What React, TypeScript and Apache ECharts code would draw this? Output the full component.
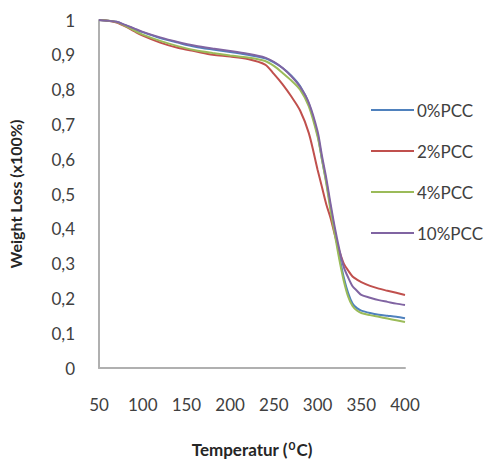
import React, { useEffect, useRef } from "react";
import * as echarts from "echarts";

const temperatures = [50, 60, 70, 80, 90, 100, 120, 140, 160, 180, 200, 220, 240, 250, 260, 270, 280, 290, 300, 305, 310, 315, 320, 325, 330, 335, 340, 345, 350, 360, 370, 380, 390, 400];

const pcc0 = [1.0, 0.998, 0.995, 0.985, 0.975, 0.965, 0.948, 0.935, 0.923, 0.915, 0.908, 0.9, 0.89, 0.878, 0.862, 0.84, 0.81, 0.76, 0.67, 0.6, 0.535, 0.46, 0.39, 0.32, 0.26, 0.215, 0.185, 0.172, 0.165, 0.158, 0.153, 0.15, 0.147, 0.143];
const pcc2 = [1.0, 0.998, 0.993, 0.982, 0.968, 0.955, 0.935, 0.92, 0.91, 0.9, 0.895, 0.888, 0.872, 0.845, 0.815, 0.78, 0.74, 0.675, 0.57, 0.52, 0.47, 0.43, 0.38, 0.335, 0.3, 0.28, 0.263, 0.254, 0.247, 0.236, 0.228, 0.222, 0.216, 0.21];
const pcc4 = [1.0, 0.998, 0.994, 0.983, 0.97, 0.958, 0.94, 0.925, 0.913, 0.905, 0.898, 0.892, 0.882, 0.868, 0.848, 0.826, 0.8, 0.752, 0.665, 0.6, 0.53, 0.45, 0.38, 0.31, 0.25, 0.205, 0.178, 0.165, 0.158, 0.152, 0.147, 0.142, 0.137, 0.132];
const pcc10 = [1.0, 0.998, 0.995, 0.986, 0.976, 0.966, 0.95, 0.937, 0.926, 0.918, 0.911, 0.903, 0.892, 0.88, 0.862, 0.838, 0.808, 0.762, 0.68, 0.61, 0.545, 0.47, 0.4, 0.34, 0.29, 0.26, 0.235, 0.222, 0.21, 0.202, 0.195, 0.19, 0.185, 0.181];

const seriesNames = ["0%PCC", "2%PCC", "4%PCC", "10%PCC"];
const seriesColors = ["#4f81bd", "#c0504d", "#9bbb59", "#8064a2"];
const seriesData = [pcc0, pcc2, pcc4, pcc10];

export default function App() {
  const ref = useRef<HTMLDivElement>(null);
  useEffect(() => {
    if (!ref.current) return;
    const chart = echarts.init(ref.current, null, { renderer: "svg" });
    const font = "Lato, 'Open Sans', sans-serif";
    chart.setOption({
      animation: false,
      backgroundColor: "#ffffff",
      grid: { left: 99, right: 90, top: 20, bottom: 92, containLabel: false, outerBoundsMode: "none" },
      legend: {
        orient: "vertical",
        left: 366,
        top: 95,
        icon: "rect",
        itemWidth: 43,
        itemHeight: 2,
        itemGap: 21,
        textStyle: { fontFamily: font, fontSize: 17, color: "#404040", lineHeight: 20, padding: [0, 0, 0, -2] },
        data: seriesNames,
      },
      xAxis: {
        type: "value",
        min: 50,
        max: 400,
        interval: 50,
        axisLine: { lineStyle: { color: "#b0b0b0", width: 2 } },
        axisTick: { show: false },
        splitLine: { show: false },
        axisLabel: { fontFamily: font, fontSize: 17, color: "#404040", margin: 28 },
        name: "{a|Temperatur (}{sup|0}{a|C)}",
        nameLocation: "middle",
        nameGap: 71,
        nameTextStyle: {
          rich: {
            a: { fontFamily: font, fontSize: 17, fontWeight: "bold", color: "#262626" },
            sup: { fontFamily: font, fontSize: 12, fontWeight: "bold", color: "#262626", padding: [0, 1, 9, 1] },
          },
        },
      },
      yAxis: {
        type: "value",
        min: 0,
        max: 1,
        interval: 0.1,
        axisLine: { show: true, lineStyle: { color: "#b0b0b0", width: 2 } },
        axisTick: { show: false },
        splitLine: { show: false },
        axisLabel: {
          fontFamily: font,
          fontSize: 17,
          color: "#404040",
          margin: 24,
          formatter: (v: number) => String(Math.round(v * 10) / 10).replace(".", ","),
        },
        name: "Weight Loss (x100%)",
        nameLocation: "middle",
        nameGap: 76,
        nameTextStyle: { fontFamily: font, fontSize: 16, fontWeight: "bold", color: "#262626" },
      },
      series: seriesNames.map((name, i) => ({
        name,
        type: "line",
        data: temperatures.map((t, j) => [t, seriesData[i][j]]),
        smooth: 0.3,
        showSymbol: false,
        lineStyle: { color: seriesColors[i], width: 2 },
        itemStyle: { color: seriesColors[i] },
      })),
    });
    return () => chart.dispose();
  }, []);
  return <div ref={ref} style={{ position: "absolute", left: 0, top: 0, width: 495, height: 460 }} />;
}
